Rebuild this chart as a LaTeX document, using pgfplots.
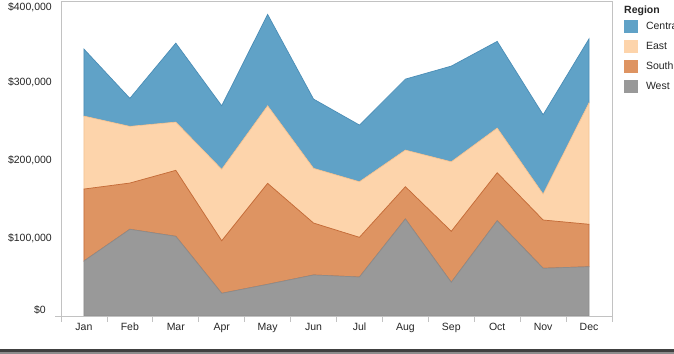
\documentclass[border=0pt]{standalone}
\usepackage{pgfplots}
\usepackage{pgfplotstable}
\pgfplotsset{compat=1.18}
\usepackage{fontspec}
\setmainfont{Liberation Sans}
\definecolor{cC}{HTML}{60A2C7}
\definecolor{cCd}{HTML}{4A8DB6}
\definecolor{cE}{HTML}{FDD4AB}
\definecolor{cEd}{HTML}{F4C393}
\definecolor{cS}{HTML}{DE9462}
\definecolor{cSd}{HTML}{C46A37}
\definecolor{cW}{HTML}{999999}
\definecolor{cWd}{HTML}{8C8C8C}
\definecolor{axgray}{HTML}{C2C2C2}
\pgfplotstableread{
x W S E C
0 70500 92300 93600 85900
1 111200 59300 72700 35900
2 102200 84600 61900 101300
3 29100 67400 91600 81500
4 40600 129500 99500 117200
5 52600 66600 70200 88800
6 50000 50900 71300 72700
7 124400 41400 47000 91000
8 43200 65400 89200 122700
9 122200 61500 57300 111200
10 61200 61900 33300 101700
11 63200 54400 155900 82000
}\salesdata
\begin{document}
\begin{tikzpicture}
\useasboundingbox (0,0) rectangle (674bp,354bp);
\clip (0,0) rectangle (674bp,354bp);
\fill[white] (0,0) rectangle (674bp,354bp);
\begin{axis}[
  at={(61bp,38bp)}, anchor=south west,
  scale only axis, width=551bp, height=315bp,
  xmin=-0.5, xmax=11.5, ymin=0, ymax=404000,
  stack plots=y,
  axis line style={axgray, line width=0.8pt},
  tick style={axgray, line width=0.8pt},
  tick align=outside,
  xtick pos=bottom, ytick pos=left,
  major tick length=0pt,
  xtick={0,...,11},
  xticklabels={Jan,Feb,Mar,Apr,May,Jun,Jul,Aug,Sep,Oct,Nov,Dec},
  extra x ticks={-0.5,0.5,1.5,2.5,3.5,4.5,5.5,6.5,7.5,8.5,9.5,10.5,11.5},
  extra x tick labels={},
  extra x tick style={major tick length=6bp},
  ytick={100000,200000,300000,400000},
  yticklabels={{\$100,000},{\$200,000},{\$300,000},{\raisebox{-6.5bp}[0pt][0pt]{\$400,000}}},
  extra y ticks={0},
  extra y tick labels={\$0},
  extra y tick style={major tick length=6bp, yticklabel style={yshift=6.5bp}},
  every tick label/.append style={font=\fontsize{10.5bp}{12bp}\selectfont, text=black!85},
  xticklabel style={anchor=north, inner sep=0pt, yshift=-7bp},
  yticklabel style={anchor=east, inner sep=0pt, xshift=-9bp},
  reverse legend,
  legend cell align=left,
  legend image code/.code={\path[#1, draw=none] (0bp,-6.5bp) rectangle (14bp,6.5bp);},
  legend style={at={(1.0218,0.9397)}, anchor=north west, draw=none, fill=none,
    inner sep=0pt, outer sep=0pt, row sep=7bp, column sep=8bp,
    nodes={inner sep=0pt, text=black!85, font=\fontsize{10.5bp}{12bp}\selectfont}},
]
\addplot[fill=cW, draw=cWd, line width=0.7pt] table[x=x, y=W] {\salesdata} \closedcycle;
\addlegendentry{West}
\addplot[fill=cS, draw=cSd, line width=0.7pt] table[x=x, y=S] {\salesdata} \closedcycle;
\addlegendentry{South}
\addplot[fill=cE, draw=cEd, line width=0.7pt] table[x=x, y=E] {\salesdata} \closedcycle;
\addlegendentry{East}
\addplot[fill=cC, draw=cCd, line width=0.7pt] table[x=x, y=C] {\salesdata} \closedcycle;
\addlegendentry{Central}
\end{axis}
\node[anchor=west, inner sep=0pt, font=\fontsize{10.5bp}{12bp}\selectfont\bfseries, text=black!85] at (624bp,343bp) {Region};
\fill[black!45] (0,0) rectangle (674bp,2bp);
\fill[black!75] (0,2bp) rectangle (674bp,5bp);
\end{tikzpicture}
\end{document}
